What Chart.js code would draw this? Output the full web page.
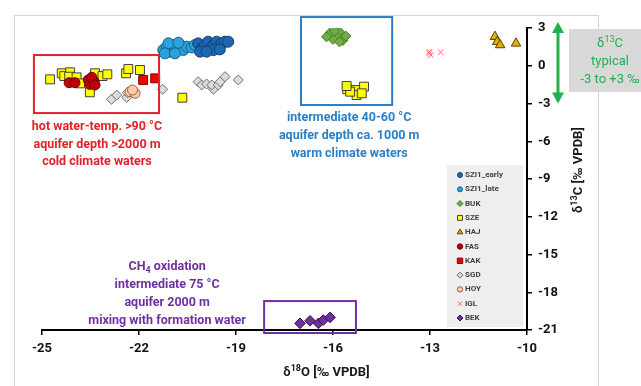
<!DOCTYPE html>
<html>
<head>
<meta charset="utf-8">
<script src="https://cdn.jsdelivr.net/npm/chart.js@4/dist/chart.umd.min.js"></script>
<style>
  body { margin: 0; background: #fff; }
  canvas { display: block; }
</style>
</head>
<body>
<canvas id="graph" width="641" height="386"></canvas>
<script>
// isotope data, [d18O, d13C] pairs
var SZI1_early = [[-20.17,1.78],[-20.06,1.38],[-19.96,1.65],[-19.86,1.91],[-19.80,1.38],[-19.70,1.65],[-19.60,1.91],[-19.55,1.51],[-19.44,1.78],[-19.34,1.91],[-19.24,1.91],[-20.11,1.12],[-19.70,1.25],[-19.91,1.12],[-19.50,1.30]];
var SZI1_late = [[-21.25,1.25],[-21.14,1.51],[-21.04,1.12],[-20.94,1.65],[-20.83,1.38],[-20.73,1.65],[-20.63,1.25],[-20.52,1.51],[-20.37,1.46],[-20.27,1.65],[-21.09,1.78],[-20.78,1.83],[-21.20,0.99],[-20.89,0.99]];
var BUK = [[-16.10,2.60],[-15.80,2.70],[-15.90,2.30],[-16.00,2.10],[-15.70,2.00],[-15.80,1.90],[-16.20,2.30],[-15.60,2.35],[-15.95,2.75]];
var SZE = [[-24.75,-1.08],[-24.39,-0.60],[-24.31,-0.82],[-24.13,-0.52],[-24.16,-0.87],[-23.93,-0.92],[-23.82,-1.40],[-23.36,-0.60],[-23.13,-0.82],[-22.98,-0.68],[-23.52,-2.11],[-22.40,-0.60],[-22.33,-0.26],[-21.97,-0.34],[-20.66,-2.54],[-15.56,-1.87],[-15.29,-1.93],[-15.04,-1.66],[-15.27,-2.33],[-15.11,-2.19],[-15.47,-2.06],[-15.58,-1.61]];
var HAJ = [[-10.99,2.31],[-10.92,1.91],[-10.83,1.65],[-10.34,1.78]];
var FAS = [[-24.16,-1.35],[-23.98,-1.35],[-23.57,-1.13],[-23.52,-1.48],[-23.39,-1.27],[-23.46,-0.92],[-23.36,-1.53]];
var KAK = [[-21.87,-1.13],[-21.50,-1.00]];
var SGD = [[-22.85,-2.67],[-22.69,-2.33],[-22.38,-2.51],[-22.36,-2.14],[-21.27,-1.87],[-20.17,-1.27],[-20.06,-1.53],[-19.91,-1.45],[-19.70,-1.87],[-19.75,-1.53],[-19.55,-1.53],[-19.49,-1.27],[-19.34,-0.87],[-18.93,-1.13]];
var HOY = [[-22.28,-2.06],[-22.12,-2.19],[-22.20,-1.93]];
var IGL = [[-13.02,0.99],[-12.98,0.85],[-12.67,1.07],[-13.02,1.12]];
var BEK = [[-17.02,-20.47],[-16.71,-20.27],[-16.45,-20.47],[-16.30,-20.21],[-16.09,-20.00]];

var xTicks = [-25, -22, -19, -16, -13, -10];
var yTicks = [3, 0, -3, -6, -9, -12, -15, -18, -21];

// annotation notes: lines of text and their boxes in data units
var redNote = ['hot water-temp. >90 °C', 'aquifer depth >2000 m', 'cold climate waters'];
var blueNote = ['intermediate 40-60 °C', 'aquifer depth ca. 1000 m', 'warm climate waters'];
var purpleNote = [[{t:'CH'},{t:'4',sub:true},{t:' oxidation'}], 'intermediate 75 °C', 'aquifer 2000 m', 'mixing with formation water'];
var typicalNote = [[{t:'δ'},{t:'13',sup:true},{t:'C'}], 'typical', '-3 to +3 ‰'];
var typicalRange = [3, -3];

var FONT = 'Roboto, "Open Sans", sans-serif';

function pts(arr) {
    return arr.map(function (p) { return {x: p[0], y: p[1]}; });
}

function drawRich(ctx, parts, x, y, size, weight, color, align) {
    if (typeof parts === 'string') parts = [{t: parts}];
    var fonts = parts.map(function (p) {
        return weight + ' ' + ((p.sup || p.sub) ? Math.round(size * 0.68) : size) + 'px ' + FONT;
    });
    var total = 0;
    var widths = parts.map(function (p, i) {
        ctx.font = fonts[i];
        var w = ctx.measureText(p.t).width;
        total += w;
        return w;
    });
    var cx = align === 'center' ? x - total / 2 : x;
    ctx.fillStyle = color;
    ctx.textBaseline = 'middle';
    ctx.textAlign = 'left';
    parts.forEach(function (p, i) {
        ctx.font = fonts[i];
        var dy = p.sup ? -size * 0.3 : (p.sub ? size * 0.3 : 0);
        ctx.fillText(p.t, cx, y + dy);
        cx += widths[i];
    });
}

var annotations = {
    id: 'annotations',
    beforeDraw: function (chart) {
        var ctx = chart.ctx;
        ctx.save();
        ctx.strokeStyle = '#d4d4d4';
        ctx.lineWidth = 1;
        ctx.strokeRect(14.5, 15.5, 584, 420);
        ctx.restore();
    },
    afterDatasetsDraw: function (chart) {
        var ctx = chart.ctx, xs = chart.scales.x, ys = chart.scales.y;
        var boxes = [
            {x0: -25.25, x1: -21.38, y0: 0.85, y1: -3.76, c: '#e3212b'},
            {x0: -16.99, x1: -14.17, y0: 3.87, y1: -3.12, c: '#2a80c8'},
            {x0: -18.13, x1: -15.29, y0: -18.70, y1: -21.24, c: '#7030a0'}
        ];
        ctx.save();
        ctx.lineWidth = 2;
        boxes.forEach(function (b) {
            var l = xs.getPixelForValue(b.x0), r = xs.getPixelForValue(b.x1);
            var t = ys.getPixelForValue(b.y0), bt = ys.getPixelForValue(b.y1);
            ctx.strokeStyle = b.c;
            ctx.strokeRect(l, t, r - l, bt - t);
        });
        ctx.restore();
    },
    afterDraw: function (chart) {
        var ctx = chart.ctx, xs = chart.scales.x, ys = chart.scales.y, area = chart.chartArea;
        ctx.save();

        // notes
        redNote.forEach(function (s, i) {
            drawRich(ctx, s, xs.getPixelForValue(-23.30), ys.getPixelForValue(-4.87) + i * 17.5, 12.5, 'bold', '#e3212b', 'center');
        });
        blueNote.forEach(function (s, i) {
            drawRich(ctx, s, xs.getPixelForValue(-15.50), ys.getPixelForValue(-4.15) + i * 18, 12.5, 'bold', '#2a80c8', 'center');
        });
        purpleNote.forEach(function (s, i) {
            drawRich(ctx, s, xs.getPixelForValue(-21.13), ys.getPixelForValue(-16.0) + i * 18, 12.5, 'bold', '#7030a0', 'center');
        });

        // typical range box + arrow
        ctx.fillStyle = '#d9d9d9';
        ctx.fillRect(569, 29, 80, 63);
        typicalNote.forEach(function (s, i) {
            drawRich(ctx, s, 610, 44 + i * 18, 13, 'normal', '#22b04f', 'center');
        });
        var ax = 558, top = ys.getPixelForValue(typicalRange[0]) - 6, bot = ys.getPixelForValue(typicalRange[1]);
        ctx.strokeStyle = '#22b04f';
        ctx.fillStyle = '#22b04f';
        ctx.lineWidth = 3;
        ctx.beginPath();
        ctx.moveTo(ax, top + 8);
        ctx.lineTo(ax, bot - 8);
        ctx.stroke();
        ctx.beginPath();
        ctx.moveTo(ax, top); ctx.lineTo(ax - 6, top + 11); ctx.lineTo(ax + 6, top + 11); ctx.closePath();
        ctx.fill();
        ctx.beginPath();
        ctx.moveTo(ax, bot); ctx.lineTo(ax - 6, bot - 11); ctx.lineTo(ax + 6, bot - 11); ctx.closePath();
        ctx.fill();

        // axis titles
        drawRich(ctx, [{t:'δ'},{t:'18',sup:true},{t:'O [‰ VPDB]'}], (area.left + area.right) / 2 + 42, 373, 13, 'bold', '#1a1a1a', 'center');
        ctx.save();
        ctx.translate(579, 170);
        ctx.rotate(-Math.PI / 2);
        drawRich(ctx, [{t:'δ'},{t:'13',sup:true},{t:'C [‰ VPDB]'}], 0, 0, 13, 'bold', '#1a1a1a', 'center');
        ctx.restore();

        // legend
        var lx = 447, ly = 165, lw = 76, lh = 162;
        ctx.fillStyle = '#efefef';
        ctx.fillRect(lx, ly, lw, lh);
        var drawPoint = Chart.helpers && Chart.helpers.drawPoint;
        chart.data.datasets.forEach(function (ds, i) {
            var py = ly + 10 + i * 14.3;
            ctx.fillStyle = ds.backgroundColor;
            ctx.strokeStyle = ds.borderColor;
            ctx.lineWidth = 1;
            if (drawPoint) {
                drawPoint(ctx, {pointStyle: ds.pointStyle, radius: ds.legendRadius, borderWidth: 1, rotation: 0}, lx + 13, py);
            }
            ctx.font = 'bold 8px ' + FONT;
            ctx.fillStyle = '#404040';
            ctx.textAlign = 'left';
            ctx.textBaseline = 'middle';
            ctx.fillText(ds.label, lx + 18, py);
        });
        ctx.restore();
    }
};

function series(label, arr, style, fill, border, radius, legendRadius, order) {
    return {
        label: label,
        data: pts(arr),
        pointStyle: style,
        backgroundColor: fill,
        borderColor: border,
        borderWidth: 1,
        pointRadius: radius,
        legendRadius: legendRadius,
        order: order
    };
}

var chart = new Chart(document.getElementById('graph').getContext('2d'), {
    type: 'scatter',
    data: {
        datasets: [
            series('SZI1_early', SZI1_early, 'circle', '#1c68b4', '#173f6e', 5.5, 2.5, 3),
            series('SZI1_late', SZI1_late, 'circle', '#2aa2dd', '#1b5f8c', 5.5, 2.5, 3),
            series('BUK', BUK, 'rectRot', '#70ad47', '#4a7a2c', 5, 3, 3),
            series('SZE', SZE, 'rect', '#ffff00', '#404040', 6.3, 3.5, 2),
            series('HAJ', HAJ, 'triangle', '#e1b000', '#5a4300', 5.5, 3.2, 3),
            series('FAS', FAS, 'circle', '#c00000', '#6b0000', 5, 2.7, 1),
            series('KAK', KAK, 'rect', '#f00000', '#900000', 6.3, 3.8, 1),
            series('SGD', SGD, 'rectRot', '#dcdcdc', '#707070', 5, 3, 3),
            series('HOY', HOY, 'circle', '#f8cbad', '#a0623a', 5, 2.7, 1),
            series('IGL', IGL, 'crossRot', '#ff7c80', '#ff6a6e', 4, 3, 3),
            series('BEK', BEK, 'rectRot', '#7030a0', '#2d0f45', 5.3, 3, 3)
        ]
    },
    options: {
        responsive: false,
        animation: false,
        devicePixelRatio: 1,
        layout: { padding: { left: 42, top: 28, right: 0, bottom: 0 } },
        plugins: { legend: { display: false }, tooltip: { enabled: false } },
        scales: {
            x: {
                type: 'linear',
                min: -25,
                max: -10,
                afterBuildTicks: function (s) { s.ticks = xTicks.map(function (v) { return {value: v}; }); },
                afterFit: function (s) { s.height = 56; },
                grid: { drawOnChartArea: false, drawTicks: true, tickLength: 5, color: '#000', lineWidth: 1.5 },
                border: { display: true, color: '#000', width: 2 },
                ticks: { color: '#111', padding: 6, font: { family: FONT, size: 13, weight: 'bold' } }
            },
            y: {
                type: 'linear',
                position: 'right',
                min: -21,
                max: 3,
                afterBuildTicks: function (s) { s.ticks = yTicks.map(function (v) { return {value: v}; }); },
                afterFit: function (s) { s.width = 114; },
                grid: { drawOnChartArea: false, drawTicks: true, tickLength: 5, color: '#000', lineWidth: 1.5 },
                border: { display: true, color: '#000', width: 2 },
                ticks: { color: '#111', padding: 6, font: { family: FONT, size: 13, weight: 'bold' } }
            }
        }
    },
    plugins: [annotations]
});
</script>
</body>
</html>
